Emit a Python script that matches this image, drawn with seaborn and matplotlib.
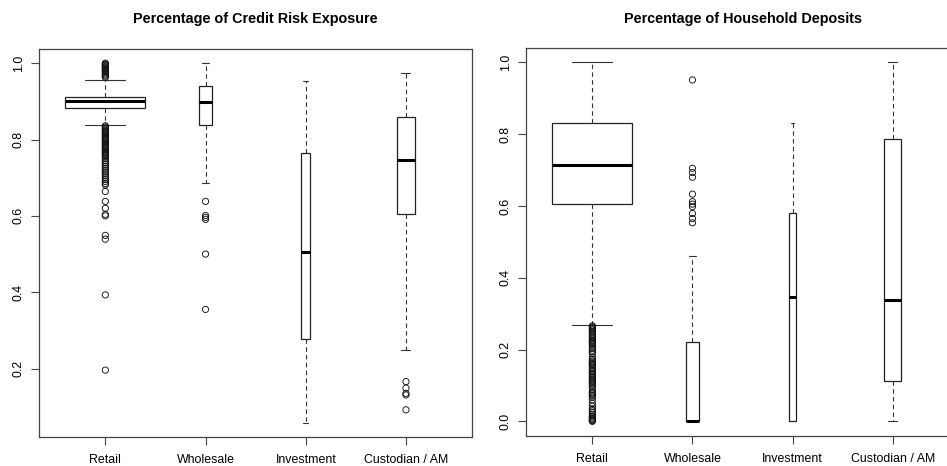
import numpy as np
import pandas as pd
import matplotlib
matplotlib.use("Agg")
import matplotlib.pyplot as plt
import seaborn as sns

categories = ["Retail", "Wholesale", "Investment", "Custodian / AM"]

# ---- Panel 1: Percentage of Credit Risk Exposure ----
credit_q1 = [0.882, 0.8375, 0.277, 0.605]
credit_med = [0.902, 0.899, 0.505, 0.747]
credit_q3 = [0.9125, 0.9405, 0.764, 0.858]
credit_wlo = [0.838, 0.686, 0.0585, 0.248]
credit_whi = [0.957, 1.0, 0.954, 0.974]
credit_n = [3000, 80, 38, 152]
credit_out_retail = [1.0, 0.998, 0.996, 0.994, 0.991, 0.989, 0.986, 0.984, 0.981,
                     0.978, 0.975, 0.972, 0.969, 0.966, 0.963,
                     0.836, 0.833, 0.830, 0.827, 0.824, 0.821, 0.818, 0.815, 0.812,
                     0.809, 0.806, 0.803, 0.800, 0.797, 0.794, 0.791, 0.788, 0.785,
                     0.782, 0.779, 0.776, 0.773, 0.770, 0.767, 0.764, 0.761, 0.758,
                     0.754, 0.750, 0.745, 0.740, 0.735, 0.730, 0.725, 0.720, 0.715,
                     0.710, 0.705, 0.700, 0.695, 0.690, 0.685, 0.681, 0.664, 0.638,
                     0.620, 0.604, 0.600, 0.549, 0.539, 0.393, 0.196]
credit_out_wholesale = [0.638, 0.601, 0.596, 0.591, 0.500, 0.355]
credit_out_investment = []
credit_out_custodian = [0.166, 0.149, 0.135, 0.131, 0.092]

# ---- Panel 2: Percentage of Household Deposits ----
deposit_q1 = [0.605, 0.0, 0.0, 0.113]
deposit_med = [0.714, 0.0, 0.347, 0.339]
deposit_q3 = [0.830, 0.222, 0.581, 0.787]
deposit_wlo = [0.268, 0.0, 0.0, 0.0]
deposit_whi = [1.0, 0.460, 0.830, 1.0]
deposit_n = [3000, 80, 25, 140]
deposit_out_retail = [0.266, 0.263, 0.260, 0.257, 0.254, 0.250, 0.246, 0.242, 0.238,
                      0.234, 0.230, 0.226, 0.223, 0.220, 0.217, 0.213, 0.208, 0.203,
                      0.198, 0.193, 0.188, 0.178, 0.172, 0.168, 0.165, 0.162, 0.158,
                      0.155, 0.150, 0.146, 0.142, 0.138, 0.134, 0.130, 0.126, 0.122,
                      0.118, 0.115, 0.112, 0.108, 0.104, 0.100, 0.095, 0.088, 0.082,
                      0.079, 0.076, 0.072, 0.068, 0.060, 0.050, 0.042, 0.035, 0.030,
                      0.025, 0.020, 0.015, 0.012, 0.009, 0.006, 0.004, 0.002, 0.0]
deposit_out_wholesale = [0.951, 0.705, 0.693, 0.680, 0.633, 0.612, 0.605, 0.598,
                         0.579, 0.565, 0.553]
deposit_out_investment = []
deposit_out_custodian = []

titles = ["Percentage of Credit Risk Exposure", "Percentage of Household Deposits"]

sns.set_theme(style="white")
plt.rcParams["font.family"] = ["Liberation Sans", "DejaVu Sans"]

W, H = 947, 466
fig = plt.figure(figsize=(W / 100, H / 100), dpi=100)
fig.patch.set_facecolor("white")


def px_axes(x0, x1, y0, y1):
    return fig.add_axes([x0 / W, 1 - y1 / H, (x1 - x0) / W, (y1 - y0) / H])


panels = [
    dict(ax=px_axes(39.2, 472.1, 48.8, 437.0),
         q1=credit_q1, med=credit_med, q3=credit_q3, wlo=credit_wlo, whi=credit_whi,
         n=credit_n,
         outs=[credit_out_retail, credit_out_wholesale, credit_out_investment,
               credit_out_custodian],
         ylim=(0.0208, 1.0377), yticks=[0.2, 0.4, 0.6, 0.8, 1.0]),
    dict(ax=px_axes(526.3, 958.7, 48.0, 435.7),
         q1=deposit_q1, med=deposit_med, q3=deposit_q3, wlo=deposit_wlo, whi=deposit_whi,
         n=deposit_n,
         outs=[deposit_out_retail, deposit_out_wholesale, deposit_out_investment,
               deposit_out_custodian],
         ylim=(-0.04, 1.04), yticks=[0.0, 0.2, 0.4, 0.6, 0.8, 1.0]),
]

frame_col = "#444444"
for p, title in zip(panels, titles):
    ax = p["ax"]
    ax.set_facecolor("white")
    n = np.array(p["n"], dtype=float)
    widths = 0.8 * np.sqrt(n / n.max())
    stats = []
    for i in range(len(categories)):
        stats.append(dict(q1=p["q1"][i], med=p["med"][i], q3=p["q3"][i],
                          whislo=p["wlo"][i], whishi=p["whi"][i], fliers=[],
                          label=categories[i]))
    pos = np.arange(len(categories))
    ax.bxp(stats, positions=pos, widths=widths, capwidths=widths * 0.5,
           showfliers=False, patch_artist=True,
           boxprops=dict(facecolor="white", edgecolor="#222222", linewidth=0.9),
           medianprops=dict(color="black", linewidth=2.2, solid_capstyle="butt"),
           whiskerprops=dict(color="#333333", linewidth=0.8, linestyle=(0, (4, 3))),
           capprops=dict(color="#333333", linewidth=0.8),
           manage_ticks=False, zorder=2)

    # outliers
    rows = []
    for i, vals in enumerate(p["outs"]):
        for v in vals:
            rows.append((i, v))
    df = pd.DataFrame(rows, columns=["pos", "value"])
    sns.scatterplot(data=df, x="pos", y="value", ax=ax, marker="o", s=20,
                    facecolor="none", edgecolor="#111111", linewidth=0.65,
                    legend=False, zorder=3)

    ax.set_xlim(-0.66, 3.66)
    ax.set_ylim(*p["ylim"])
    ax.set_xticks(pos)
    ax.set_xticklabels(categories, fontsize=8.9, color="black")
    ax.set_yticks(p["yticks"])
    ax.set_yticklabels([f"{t:.1f}" for t in p["yticks"]], fontsize=8.9,
                       rotation=90, va="center", color="black")
    ax.set_xlabel("")
    ax.set_ylabel("")
    ax.tick_params(axis="both", direction="out", length=5.5, width=0.8,
                   color=frame_col, bottom=True, left=True)
    ax.tick_params(axis="x", pad=7)
    ax.tick_params(axis="y", pad=5)
    for s in ax.spines.values():
        s.set_visible(True)
        s.set_color(frame_col)
        s.set_linewidth(0.9)
    ax.grid(False)

    bb = ax.get_position()
    xc = bb.x0 + bb.width / 2
    fig.text(xc, 1 - 19.5 / H, title, ha="center", va="center",
             fontsize=10.4, fontweight="bold", color="black")

fig.savefig("out.png", dpi=100, facecolor="white")
